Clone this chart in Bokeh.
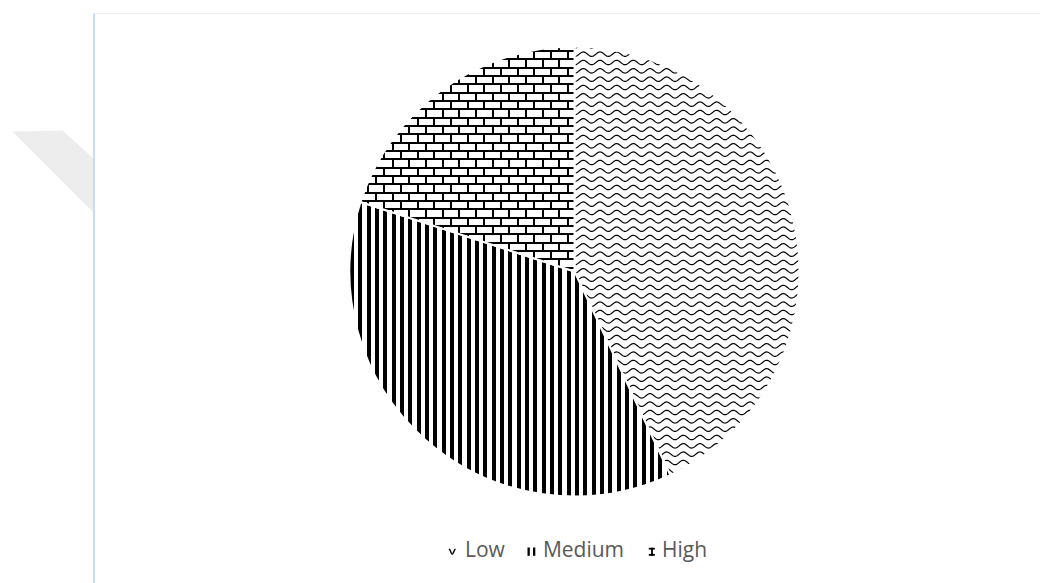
import base64
import struct
import zlib
from math import cos, pi

from bokeh.embed import file_html
from bokeh.models import ColumnDataSource, ImageURLTexture, Legend, LegendItem, Range1d
from bokeh.plotting import figure
from bokeh.resources import INLINE

# ---- data -------------------------------------------------------------
levels = ["Low", "Medium", "High"]
shares = [43, 37, 20]
patterns = ["wave", "stripes", "brick"]

TILE = 50  # texture tile size in px (6 rows / columns per tile)


def svg_url(body):
    svg = (f'<svg xmlns="http://www.w3.org/2000/svg" width="{TILE}" height="{TILE}" '
           f'viewBox="0 0 {TILE} {TILE}">{body}</svg>')
    return "data:image/svg+xml;base64," + base64.b64encode(svg.encode()).decode()


def png_url(rows):
    w, h = len(rows[0]), len(rows)
    raw = b"".join(b"\x00" + bytes(v for px in row for v in px) for row in rows)

    def chunk(tag, data):
        return (struct.pack(">I", len(data)) + tag + data
                + struct.pack(">I", zlib.crc32(tag + data) & 0xFFFFFFFF))

    png = (b"\x89PNG\r\n\x1a\n"
           + chunk(b"IHDR", struct.pack(">IIBBBBB", w, h, 8, 6, 0, 0, 0))
           + chunk(b"IDAT", zlib.compress(raw))
           + chunk(b"IEND", b""))
    return "data:image/png;base64," + base64.b64encode(png).decode()


# wavy lines: 6 rows, 3 periods per tile
wave_paths = []
step = TILE / 6
period = TILE / 3
for r in range(6):
    y0 = step * r + step / 2
    pts = []
    x = -1.0
    while x <= TILE + 1:
        pts.append(f"{x:.2f},{y0 - 2.2 * cos(2 * pi * x / period):.2f}")
        x += 0.5
    wave_paths.append(f'<polyline points="{" ".join(pts)}" fill="none" stroke="black" stroke-width="1.2"/>')
WAVE_URL = svg_url("".join(wave_paths))

# vertical stripes: 4px black, 6 per tile
stripe_cols = {round(i * TILE / 6) + k for i in range(6) for k in range(4)}
STRIPE_URL = png_url([[(0, 0, 0, 255) if c in stripe_cols else (0, 0, 0, 0)
                       for c in range(TILE)] for _ in range(TILE)])

# bricks: 6 courses, 3 bricks per course, alternate courses offset half a brick
brick = []
bw = TILE / 3
for r in range(6):
    y = round(r * step)
    y2 = round((r + 1) * step)
    brick.append(f'<rect x="0" y="{y}" width="{TILE}" height="2" fill="black"/>')
    off = (r % 2) * bw / 2
    for k in range(3):
        brick.append(f'<rect x="{round(off + k * bw)}" y="{y}" width="2" height="{y2 - y}" fill="black"/>')
BRICK_URL = svg_url("".join(brick))

textures = {
    "wave": ImageURLTexture(url=WAVE_URL),
    "stripes": ImageURLTexture(url=STRIPE_URL),
    "brick": ImageURLTexture(url=BRICK_URL),
}

# ---- slice angles: clockwise from 12 o'clock ---------------------------
total = float(sum(shares))
start_angle, end_angle = [], []
acc = 0.0
for s in shares:
    a0 = acc / total * 2 * pi
    acc += s
    a1 = acc / total * 2 * pi
    start_angle.append(pi / 2 - a1)
    end_angle.append(pi / 2 - a0)

W, H = 1040, 583
CX, CY, R = 574, H - 271, 225

src = ColumnDataSource(dict(
    label=levels, value=shares, pattern=patterns,
    start=start_angle, end=end_angle,
))

p = figure(
    width=W, height=H,
    x_range=Range1d(0, W), y_range=Range1d(0, H),
    output_backend="svg", toolbar_location=None,
    min_border=0,
)
p.axis.visible = False
p.grid.visible = False
p.outline_line_color = None

# page shadow and frame edges behind the chart
p.patch([12, 62, 93, 93], [H - 131, H - 130, H - 158, H - 212],
        fill_color="#ededed", line_color=None)
p.segment(x0=[94], y0=[H - 13], x1=[W], y1=[H - 13], line_color="#f0f0f0", line_width=1)
p.segment(x0=[93.5], y0=[H - 13], x1=[93.5], y1=[0], line_color="#c9dcf2", line_width=2)

p.wedge(
    x=CX, y=CY, radius=R, radius_units="screen",
    start_angle="start", end_angle="end", direction="anticlock",
    fill_color="white",
    hatch_pattern="pattern", hatch_extra=textures,
    hatch_color="black", hatch_scale=TILE,
    line_color="white", line_width=2,
    source=src,
)

# ---- legend -----------------------------------------------------------
# labels come from a Legend; its swatches are left blank and small pattern
# icons are drawn in their place
items = []
for lab in levels:
    dummy = p.quad(left=[], right=[], top=[], bottom=[], fill_alpha=0, line_alpha=0)
    items.append(LegendItem(label=lab, renderers=[dummy]))

lg = Legend(items=items, orientation="horizontal", location=(447, 20))
lg.border_line_color = None
lg.background_fill_alpha = 0
lg.glyph_width = 10
lg.glyph_height = 10
lg.label_standoff = 8
lg.spacing = 20
lg.padding = 0
lg.margin = 0
lg.label_text_font = "Open Sans"
lg.label_text_font_size = "21px"
lg.label_text_color = "#595959"
p.add_layout(lg)

# Low icon: one trough of the wave
ix = [448.5 + 0.5 * i for i in range(14)]
iy = [H - (551.0 - 2.5 * cos(2 * pi * (x - 448.5) / 6.5)) for x in ix]
p.line(ix, iy, line_color="black", line_width=1.4)

# Medium icon: two bars
p.quad(left=[527, 532.5], right=[529.3, 534.8], top=[H - 547, H - 547],
       bottom=[H - 555.3, H - 555.3], fill_color="black", line_color=None)

# High icon: a piece of brick joint (I shape)
p.quad(left=[648.3, 650.6, 648.3], right=[654.3, 652.4, 654.3],
       top=[H - 547.3, H - 547.3, H - 553.4], bottom=[H - 549.1, H - 555.3, H - 555.3],
       fill_color="black", line_color=None)

open("out.html", "w").write(file_html(p, INLINE))
